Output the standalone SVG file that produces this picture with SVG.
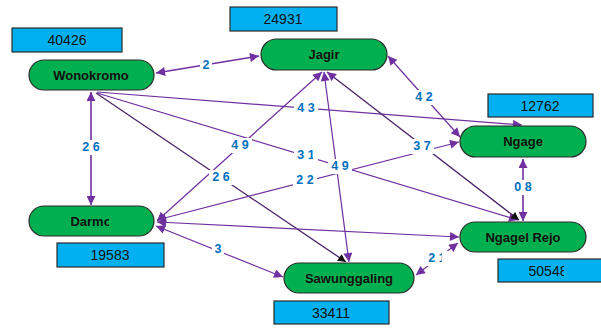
<svg xmlns="http://www.w3.org/2000/svg" width="601" height="328" viewBox="0 0 601 328">
<style>
.node{fill:#00b050;stroke:#2b2b2b;stroke-width:1.2}
.ntx{font-family:"Liberation Sans",Arial,sans-serif;font-size:13px;font-weight:bold;fill:#111;text-anchor:middle;dominant-baseline:central}
.box{fill:#00b0f0;stroke:#2b2b2b;stroke-width:1.2}
.btx{font-family:"Liberation Sans",Arial,sans-serif;font-size:14px;fill:#111;text-anchor:middle;dominant-baseline:central}
.e{fill:none;stroke:#7030a0;stroke-width:1.2}
.eb{fill:none;stroke:#7030a0;stroke-width:1.6}
.ed{fill:none;stroke:#4b2468;stroke-width:1.3}
.lb{fill:#fff}
.lt{font-family:"Liberation Sans",Arial,sans-serif;font-size:12.5px;font-weight:bold;fill:#0070c0;text-anchor:middle;dominant-baseline:central}
</style>
<defs>
<marker id="a" viewBox="0 0 10 10" refX="10" refY="5" markerWidth="11" markerHeight="9" markerUnits="userSpaceOnUse" orient="auto-start-reverse"><path d="M0,0 L10,5 L0,10 Z" fill="#7030a0"/></marker>
<marker id="k" viewBox="0 0 10 10" refX="10" refY="5" markerWidth="9" markerHeight="8" markerUnits="userSpaceOnUse" orient="auto-start-reverse"><path d="M0,0 L10,5 L0,10 Z" fill="#111"/></marker>
<clipPath id="cd"><rect x="0" y="200" width="109" height="40"/></clipPath>
<clipPath id="cn"><rect x="498" y="259" width="66" height="23"/></clipPath>
<clipPath id="c31"><rect x="290" y="145" width="23" height="20"/></clipPath>
<clipPath id="c21"><rect x="425" y="250" width="17" height="18"/></clipPath>
</defs>
<g id="connectors">
<line class="eb" x1="156" y1="73" x2="259" y2="56" marker-start="url(#a)" marker-end="url(#a)"/>
<line class="eb" x1="91" y1="92" x2="91" y2="205" marker-start="url(#a)" marker-end="url(#a)"/>
<line class="e" x1="388" y1="56" x2="460" y2="137" marker-start="url(#a)" marker-end="url(#a)"/>
<line class="eb" x1="523" y1="159" x2="523" y2="221" marker-start="url(#a)" marker-end="url(#a)"/>
<line class="e" x1="458" y1="243" x2="416" y2="275" marker-start="url(#a)" marker-end="url(#a)"/>
<line class="e" x1="156" y1="226" x2="283" y2="277" marker-start="url(#a)" marker-end="url(#a)"/>
<line class="e" x1="97" y1="92" x2="522" y2="125" marker-end="url(#a)"/>
<line class="e" x1="97" y1="93" x2="518" y2="220" marker-end="url(#a)"/>
<line class="ed" x1="96" y1="93" x2="346" y2="262" marker-end="url(#k)"/>
<line class="e" x1="322" y1="72" x2="157" y2="221" marker-start="url(#a)" marker-end="url(#a)"/>
<line class="e" x1="324" y1="72" x2="349" y2="262" marker-start="url(#a)" marker-end="url(#a)"/>
<line class="ed" x1="327" y1="72" x2="519" y2="220" marker-start="url(#a)" marker-end="url(#k)"/>
<line class="e" x1="157" y1="220" x2="459" y2="142" marker-start="url(#a)" marker-end="url(#a)"/>
<line class="e" x1="157" y1="222" x2="459" y2="237" marker-start="url(#a)" marker-end="url(#a)"/>
<g>
<rect class="lb" x="200" y="57" width="12" height="15"/><text class="lt" x="206" y="64.5">2</text>
<rect class="lb" x="79" y="140" width="24" height="15"/><text class="lt" x="91" y="147">2 6</text>
<rect class="lb" x="412" y="90" width="24" height="15"/><text class="lt" x="424" y="97">4 2</text>
<rect class="lb" x="511" y="180" width="24" height="15"/><text class="lt" x="523" y="187">0 8</text>
<rect class="lb" x="425" y="251" width="24" height="15"/><text class="lt" x="437" y="258" clip-path="url(#c21)">2 1</text>
<rect class="lb" x="212" y="242" width="12" height="15"/><text class="lt" x="218" y="249">3</text>
<rect class="lb" x="294" y="101" width="24" height="15"/><text class="lt" x="306" y="108">4 3</text>
<rect class="lb" x="294" y="148" width="24" height="15"/><text class="lt" x="306" y="155" clip-path="url(#c31)">3 1</text>
<rect class="lb" x="209" y="170" width="24" height="15"/><text class="lt" x="221" y="177">2 6</text>
<rect class="lb" x="228" y="138" width="24" height="15"/><text class="lt" x="240" y="145">4 9</text>
<rect class="lb" x="328" y="159" width="24" height="15"/><text class="lt" x="340" y="166">4 9</text>
<rect class="lb" x="410" y="139" width="24" height="15"/><text class="lt" x="422" y="146">3 7</text>
<rect class="lb" x="293" y="173" width="24" height="15"/><text class="lt" x="305" y="180">2 2</text>
</g>
</g>
<g id="wonokromo"><rect class="node" x="29" y="60" width="125" height="30" rx="15"/><text class="ntx" x="91" y="75">Wonokromo</text></g>
<g id="jagir"><rect class="node" x="261" y="39" width="126" height="31" rx="15.5"/><text class="ntx" x="324" y="54.5">Jagir</text></g>
<g id="ngage"><rect class="node" x="460" y="126" width="126" height="31" rx="15.5"/><text class="ntx" x="523" y="141.5">Ngage</text></g>
<g id="darmo"><rect class="node" x="29" y="206" width="125" height="30" rx="15"/><text class="ntx" x="91" y="221" clip-path="url(#cd)">Darmo</text></g>
<g id="ngagel-rejo"><rect class="node" x="460" y="222" width="126" height="30" rx="15"/><text class="ntx" x="523" y="237">Ngagel Rejo</text></g>
<g id="sawunggaling"><rect class="node" x="284" y="263" width="130" height="30" rx="15"/><text class="ntx" x="349" y="278">Sawunggaling</text></g>
<g id="pop-wonokromo"><rect class="box" x="12" y="28" width="110" height="24"/><text class="btx" x="67" y="40">40426</text></g>
<g id="pop-jagir"><rect class="box" x="230" y="7" width="107" height="24"/><text class="btx" x="283" y="19">24931</text></g>
<g id="pop-ngage"><rect class="box" x="488" y="94" width="105" height="23"/><text class="btx" x="540" y="105.5">12762</text></g>
<g id="pop-darmo"><rect class="box" x="57" y="243" width="107" height="24"/><text class="btx" x="110" y="255">19583</text></g>
<g id="pop-ngagel-rejo"><rect class="box" x="498" y="259" width="106" height="23"/><text class="btx" x="548" y="270.5" clip-path="url(#cn)">50548</text></g>
<g id="pop-sawunggaling"><rect class="box" x="274" y="301" width="115" height="23"/><text class="btx" x="331" y="312.5">33411</text></g>
</svg>
